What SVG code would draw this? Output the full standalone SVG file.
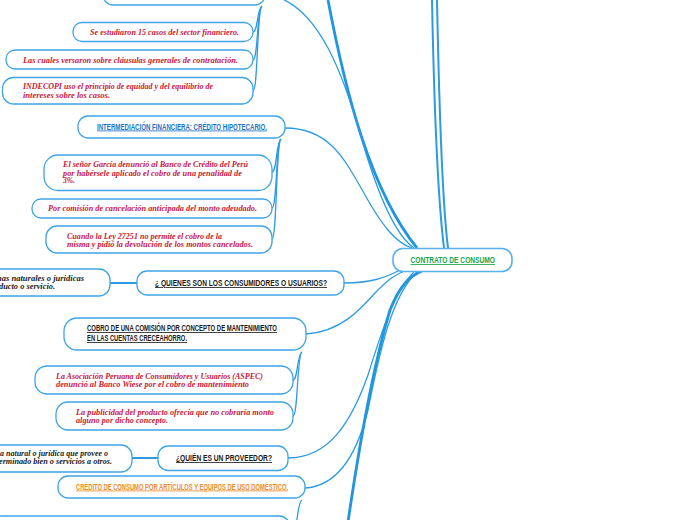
<svg xmlns="http://www.w3.org/2000/svg" width="696" height="520" viewBox="0 0 696 520">
<style>
.box{fill:#fff;stroke:#3fa4e6;stroke-width:1.3}
.ln{fill:none;stroke:#2d9be2;stroke-width:1.3}
.lm{fill:none;stroke:#2d9be2;stroke-width:2}
.lt{fill:none;stroke:#2196de;stroke-width:2.8}
.r{font-family:"Liberation Serif",serif;font-style:italic;font-weight:bold;font-size:7.6px;fill:#c8183a}
.h{font-family:"Liberation Sans",sans-serif;font-size:8.2px;font-weight:bold;text-decoration:underline}
.k{fill:#1a1a1a}
.b{fill:#1f72c4}
.o{fill:#f08a24}
.g{fill:#16a34a}
</style>
<rect width="696" height="520" fill="#fff"/>
<g id="connectors">
<path class="lt" d="M328,0 C345,90 370,190 417,248"/>
<path class="ln" d="M270,-5 C320,5 345,80 362,140 C378,195 395,235 414,248"/>
<path class="lm" d="M432,0 C434,100 438,200 444,248"/>
<path class="lm" d="M437,0 C439,100 442,200 448,248"/>
<path class="ln" d="M285,128 C330,128 345,160 365,195 C380,222 395,243 412,248"/>
<path class="ln" d="M344,283 C370,283 385,278 400,270"/>
<path class="ln" d="M306,334 C340,332 360,310 375,293 C388,280 395,274 405,271"/>
<path class="ln" d="M288,458 C330,458 352,420 368,375 C382,330 395,290 414,272"/>
<path class="ln" d="M305,488 C340,486 358,450 368,410 C380,350 392,295 417,272"/>
<path class="lt" d="M348,522 C360,440 375,360 390,310 C400,285 410,276 422,271"/>
<path class="lm" d="M110,283 L137,283"/>
<path class="lm" d="M132,458 L158,458"/>
<path class="ln" d="M262,6 C257,8 258,32 253,32"/>
<path class="ln" d="M262,6 C257,8 258,60 253,60"/>
<path class="ln" d="M262,6 C257,8 258,91 253,91"/>
<path class="ln" d="M281,139 C276,141 277,172 272,172"/>
<path class="ln" d="M281,139 C276,141 277,208 272,208"/>
<path class="ln" d="M281,139 C276,141 277,239 272,239"/>
<path class="ln" d="M302,352 C297,354 298,380 293,380"/>
<path class="ln" d="M302,352 C297,354 298,416 293,416"/>
<path class="ln" d="M302,500 C297,502 298,530 293,530"/>
</g>
<g id="n1"><rect class="box" x="103" y="-20" width="162" height="25" rx="10"/></g>
<g id="n2"><rect class="box" x="73" y="22.5" width="180" height="19" rx="9"/>
<text class="r" x="90" y="35" textLength="149" lengthAdjust="spacingAndGlyphs">Se estudiaron 15 casos del sector financiero.</text></g>
<g id="n3"><rect class="box" x="6" y="50" width="247" height="19" rx="9"/>
<text class="r" x="23" y="62.5" textLength="215" lengthAdjust="spacingAndGlyphs">Las cuales versaron sobre cláusulas generales de contratación.</text></g>
<g id="n4"><rect class="box" x="2.5" y="77.5" width="250.5" height="26.5" rx="11"/>
<text class="r" x="23" y="89" textLength="190" lengthAdjust="spacingAndGlyphs">INDECOPI uso el principio de equidad y del equilibrio de</text>
<text class="r" x="23" y="97.5" textLength="87" lengthAdjust="spacingAndGlyphs">intereses sobre los casos.</text></g>
<g id="n5"><rect class="box" x="78" y="116" width="207" height="22" rx="10"/>
<text class="h b" x="97" y="129.5" textLength="170" lengthAdjust="spacingAndGlyphs">INTERMEDIACIÓN FINANCIERA: CRÉDITO HIPOTECARIO.</text></g>
<g id="n6"><rect class="box" x="44" y="155" width="228" height="35.5" rx="14"/>
<text class="r" x="63" y="167" textLength="185" lengthAdjust="spacingAndGlyphs">El señor García denunció al Banco de Crédito del Perú</text>
<text class="r" x="63" y="175.5" textLength="179" lengthAdjust="spacingAndGlyphs">por habérsele aplicado el cobro de una penalidad de</text>
<text class="r" x="63" y="183">3%.</text></g>
<g id="n7"><rect class="box" x="32" y="199" width="240" height="19" rx="9"/>
<text class="r" x="48" y="211" textLength="209" lengthAdjust="spacingAndGlyphs">Por comisión de cancelación anticipada del monto adeudado.</text></g>
<g id="n8"><rect class="box" x="46" y="226" width="226" height="27" rx="11"/>
<text class="r" x="67" y="238.5" textLength="155" lengthAdjust="spacingAndGlyphs">Cuando la Ley 27251 no permite el cobro de la</text>
<text class="r" x="67" y="247" textLength="186" lengthAdjust="spacingAndGlyphs">misma y pidió la devolución de los montos cancelados.</text></g>
<g id="n9"><rect class="box" x="137" y="271" width="207" height="24" rx="10"/>
<text class="h k" x="155" y="286" textLength="172" lengthAdjust="spacingAndGlyphs">¿ QUIENES SON LOS CONSUMIDORES O USUARIOS?</text></g>
<g id="n10"><rect class="box" x="-60" y="269" width="170" height="27" rx="11"/>
<text class="r" x="-3" y="280.5" textLength="87" lengthAdjust="spacingAndGlyphs" style="fill:#1a1a1a">nas naturales o jurídicas</text>
<text class="r" x="-1" y="288.5" textLength="56" lengthAdjust="spacingAndGlyphs" style="fill:#1a1a1a">ducto o servicio.</text></g>
<g id="n11"><rect class="box" x="64" y="318" width="242" height="32" rx="13"/>
<text class="h k" x="87" y="331" textLength="190" lengthAdjust="spacingAndGlyphs">COBRO DE UNA COMISIÓN POR CONCEPTO DE MANTENIMIENTO</text>
<text class="h k" x="87" y="341" textLength="100" lengthAdjust="spacingAndGlyphs">EN LAS CUENTAS CRECEAHORRO.</text></g>
<g id="n12"><rect class="box" x="35" y="366" width="258" height="28" rx="12"/>
<text class="r" x="56" y="378.5" textLength="207" lengthAdjust="spacingAndGlyphs">La Asociación Peruana de Consumidores y Usuarios (ASPEC)</text>
<text class="r" x="56" y="386.5" textLength="193" lengthAdjust="spacingAndGlyphs">denunció al Banco Wiese por el cobro de mantenimiento</text></g>
<g id="n13"><rect class="box" x="56" y="402" width="237" height="28" rx="12"/>
<text class="r" x="76" y="414.5" textLength="198" lengthAdjust="spacingAndGlyphs">La publicidad del producto ofrecía que no cobraría monto</text>
<text class="r" x="76" y="422.5" textLength="92" lengthAdjust="spacingAndGlyphs">alguno por dicho concepto.</text></g>
<g id="n14"><rect class="box" x="158" y="446" width="130" height="24.5" rx="10"/>
<text class="h k" x="176" y="461" textLength="96" lengthAdjust="spacingAndGlyphs">¿QUIÉN ES UN PROVEEDOR?</text></g>
<g id="n15"><rect class="box" x="-60" y="445" width="192" height="27" rx="11"/>
<text class="r" x="0" y="455.5" textLength="108" lengthAdjust="spacingAndGlyphs" style="fill:#1a1a1a">a natural o jurídica que provee o</text>
<text class="r" x="-1" y="464" textLength="113" lengthAdjust="spacingAndGlyphs" style="fill:#1a1a1a">erminado bien o servicios a otros.</text></g>
<g id="n16"><rect class="box" x="58" y="476" width="247" height="22" rx="10"/>
<text class="h o" x="76" y="489.5" textLength="212" lengthAdjust="spacingAndGlyphs">CRÉDITO DE CONSUMO POR ARTÍCULOS Y EQUIPOS DE USO DOMÉSTICO.</text></g>
<g id="n17"><rect class="box" x="-10" y="516" width="300" height="30" rx="11"/></g>
<g id="center"><rect class="box" x="393" y="248.5" width="119" height="23" rx="10" style="stroke:#5ab2ea;stroke-width:1.6"/>
<text class="h g" x="410.5" y="263" textLength="84.5" lengthAdjust="spacingAndGlyphs">CONTRATO DE CONSUMO</text></g>
</svg>
